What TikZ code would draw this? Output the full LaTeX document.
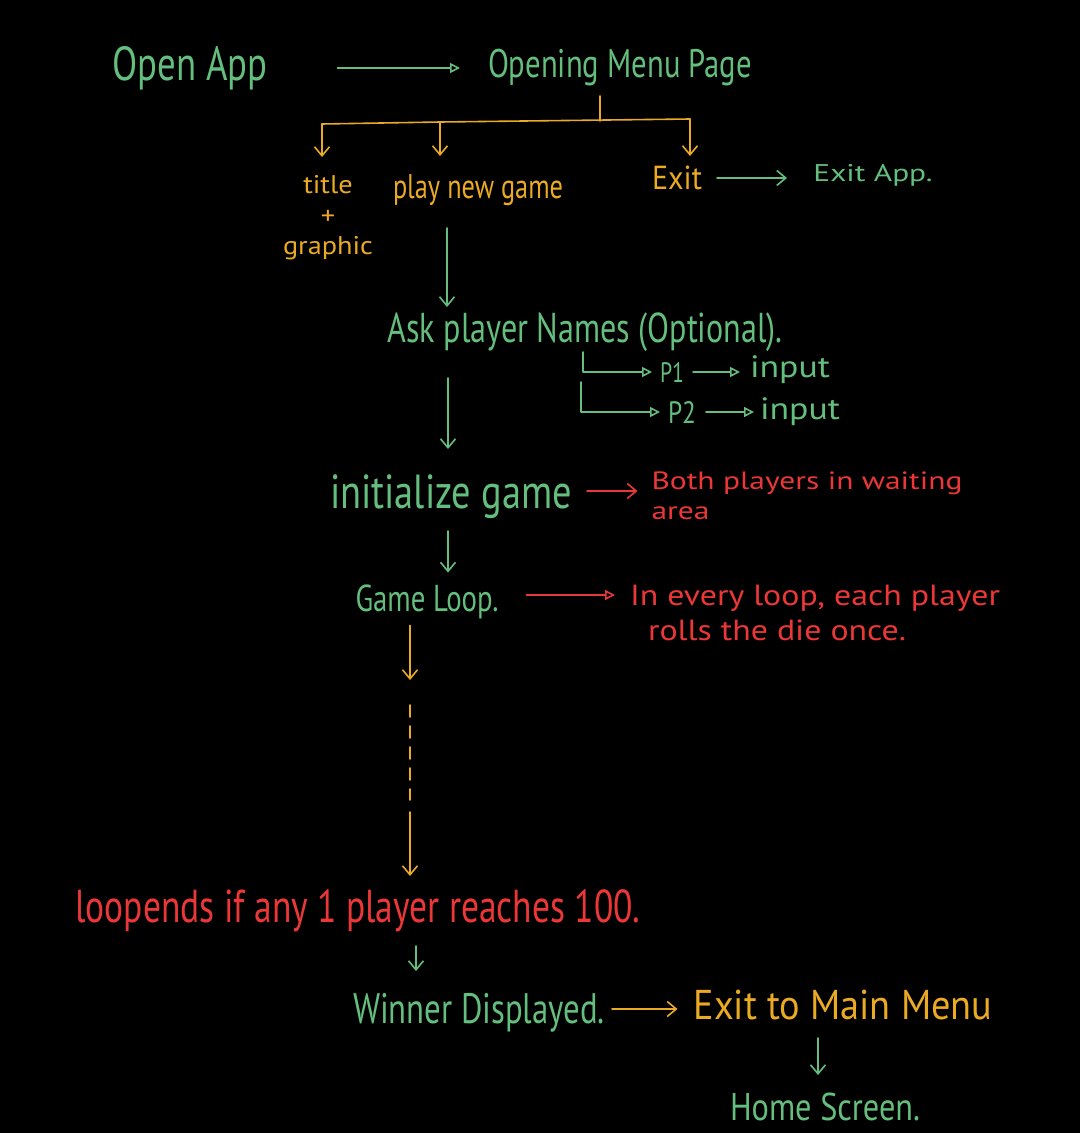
\documentclass[tikz,border=0pt]{standalone}
\usepackage{fontspec}
\setmainfont{PT Sans}
\usetikzlibrary{arrows.meta}
\definecolor{hg}{RGB}{100,190,125}
\definecolor{ho}{RGB}{235,170,35}
\definecolor{hr}{RGB}{235,55,55}
\newsavebox\hwbox
\newlength\hwW \newlength\hwT \newlength\hwD
\newcommand\hw[3]{%
  \sbox\hwbox{#3}%
  \setlength\hwW{\wd\hwbox}\setlength\hwT{\ht\hwbox}\setlength\hwD{\dp\hwbox}%
  \pgfmathsetmacro\hwsx{#1/\hwW}%
  \pgfmathsetmacro\hwsy{#2/(\hwT+\hwD)}%
  \pgfmathsetmacro\hwfx{min(\hwsx,1.3*\hwsy)}%
  \pgfmathsetmacro\hwfy{min(\hwsy,1.3*\hwsx)}%
  \pgfmathsetmacro\hwm{(#2-(\hwT+\hwD)*\hwfy)/2}%
  \pgfmathsetmacro\hwu{\hwT*\hwfy+\hwm}%
  \pgfmathsetmacro\hwd{\hwD*\hwfy+\hwm}%
  \makebox[#1pt]{\raisebox{0pt}[\hwu pt][\hwd pt]{\scalebox{\hwfx}[\hwfy]{\usebox\hwbox}}}}
\begin{document}
\begin{tikzpicture}[x=1pt,y=-1pt,
  every node/.style={inner sep=0pt,outer sep=0pt},
  gt/.style={text=hg}, ot/.style={text=ho}, rt/.style={text=hr},
  ln/.style={line width=1.6pt,line cap=round,line join=round},
  vtip/.style={-{Straight Barb[length=9pt,width=15pt]}},
  ttip/.style={-{Triangle[open,length=10pt,width=10pt]}},
  garr/.style={ln,draw=hg,vtip}, gtri/.style={ln,draw=hg,ttip},
  oarr/.style={ln,draw=ho,vtip}, oline/.style={ln,draw=ho},
  rarr/.style={ln,draw=hr,vtip}, rtri/.style={ln,draw=hr,ttip}]
\fill[black] (0,0) rectangle (1080,1133);
\useasboundingbox (0,0) rectangle (1080,1133);

% nodes
\node[gt] (oa) at (190,68) {\hw{155}{52}{Open App}};
\node[gt] (om) at (620,68) {\hw{264}{48}{Opening Menu Page}};
\node[ot] (tg) at (328,218) {\hw{90}{92}{\begin{tabular}{@{}c@{}}title\\+\\graphic\end{tabular}}};
\node[ot] (pg) at (478,190) {\hw{170}{44}{play new game}};
\node[ot] (ex) at (677,178) {\hw{50}{24}{Exit}};
\node[gt] (ea) at (873,175) {\hw{136}{22}{Exit App.}};
\node[gt] (ask) at (585,332) {\hw{395}{48}{Ask player Names (Optional).}};
\node[gt] (p1) at (672,372) {\hw{24}{20}{P1}};
\node[gt] (in1) at (790,370) {\hw{80}{28}{input}};
\node[gt] (p2) at (682,412) {\hw{28}{22}{P2}};
\node[gt] (in2) at (800,412) {\hw{80}{28}{input}};
\node[gt] (ig) at (451,497) {\hw{242}{44}{initialize game}};
\node[rt] (bw) at (807,498) {\hw{311}{60}{\begin{tabular}{@{}l@{}}Both players in waiting\\area\end{tabular}}};
\node[gt] (gl) at (427,602) {\hw{143}{35}{Game Loop.}};
\node[rt] (ev) at (815,616) {\hw{370}{70}{\begin{tabular}{@{}l@{}}In every loop, each player\\\ \ rolls the die once.\end{tabular}}};
\node[rt] (le) at (358,911) {\hw{565}{46}{loopends if any 1 player reaches 100.}};
\node[gt] (wd) at (479,1013) {\hw{252}{40}{Winner Displayed.}};
\node[ot] (em) at (843,1005) {\hw{299}{30}{Exit to Main Menu}};
\node[gt] (hs) at (825,1107) {\hw{190}{28}{Home Screen.}};

% helper coordinates
\coordinate (br) at (600,121);
\coordinate (hl) at (322,124);
\coordinate (hm) at (440,122);
\coordinate (hr) at (690,119);
\coordinate (v1) at (447,0);
\coordinate (nb) at (583,352);
\coordinate (v2) at (448,0);
\coordinate (d1) at (410,705);
\coordinate (d2) at (410,800);
\coordinate (d3) at (410,812);
\coordinate (v3) at (416,0);
\coordinate (v4) at (818,0);

% connectors
\draw[gtri,shorten <=70pt,shorten >=28pt] (oa.east) -- (om.west);
\draw[oline,shorten <=4pt] (om.south -| br) -- (br);
\draw[oline] (hl) -- (hm) -- (hr);
\draw[oarr,shorten >=15pt] (hl) -- (tg.north -| hl);
\draw[oarr,shorten >=12pt] (hm) -- (pg.north -| hm);
\draw[oarr,shorten >=10pt] (hr) -- (ex.north -| hr);
\draw[garr,shorten <=15pt,shorten >=18pt] (ex.east) -- (ea.west |- ex.east);
\draw[garr,shorten <=16pt,shorten >=1pt] (pg.south -| v1) -- (ask.north -| v1);
\draw[gtri,shorten >=8pt] (nb) |- (p1.west);
\draw[gtri,shorten >=8pt] ([xshift=-2pt,yshift=-30pt]nb) |- (p2.west);
\draw[gtri,shorten <=9pt,shorten >=10pt] (p1.east) -- (in1.west |- p1.east);
\draw[gtri,shorten <=10pt,shorten >=6pt] (p2.east) -- (in2.west |- p2.east);
\draw[garr,shorten <=22pt,shorten >=26pt] (ask.south -| v2) -- (ig.north -| v2);
\draw[rarr,shorten <=15pt,shorten >=14pt] ([yshift=6pt]ig.east) -- ([yshift=6pt]bw.west |- ig.east);
\draw[garr,shorten <=12pt,shorten >=12pt] (ig.south -| v2) -- (gl.north -| v2);
\draw[rtri,shorten <=28pt,shorten >=15pt] ([yshift=7pt]gl.east) -- ([yshift=7pt]ev.west |- gl.east);
\draw[oarr,shorten <=6pt] (gl.south -| d1) -- (410,680);
\draw[oline,dash pattern=on 12pt off 9pt] (d1) -- (d2);
\draw[oarr,shorten >=12pt] (d3) -- (le.north -| d3);
\draw[garr,shorten <=12pt,shorten >=22pt] (le.south -| v3) -- (wd.north -| v3);
\draw[oarr,shorten <=7pt,shorten >=16pt] ([yshift=4pt]wd.east) -- ([yshift=4pt]em.west |- wd.east);
\draw[garr,shorten <=18pt,shorten >=18pt] (em.south -| v4) -- (hs.north -| v4);
\end{tikzpicture}
\end{document}
